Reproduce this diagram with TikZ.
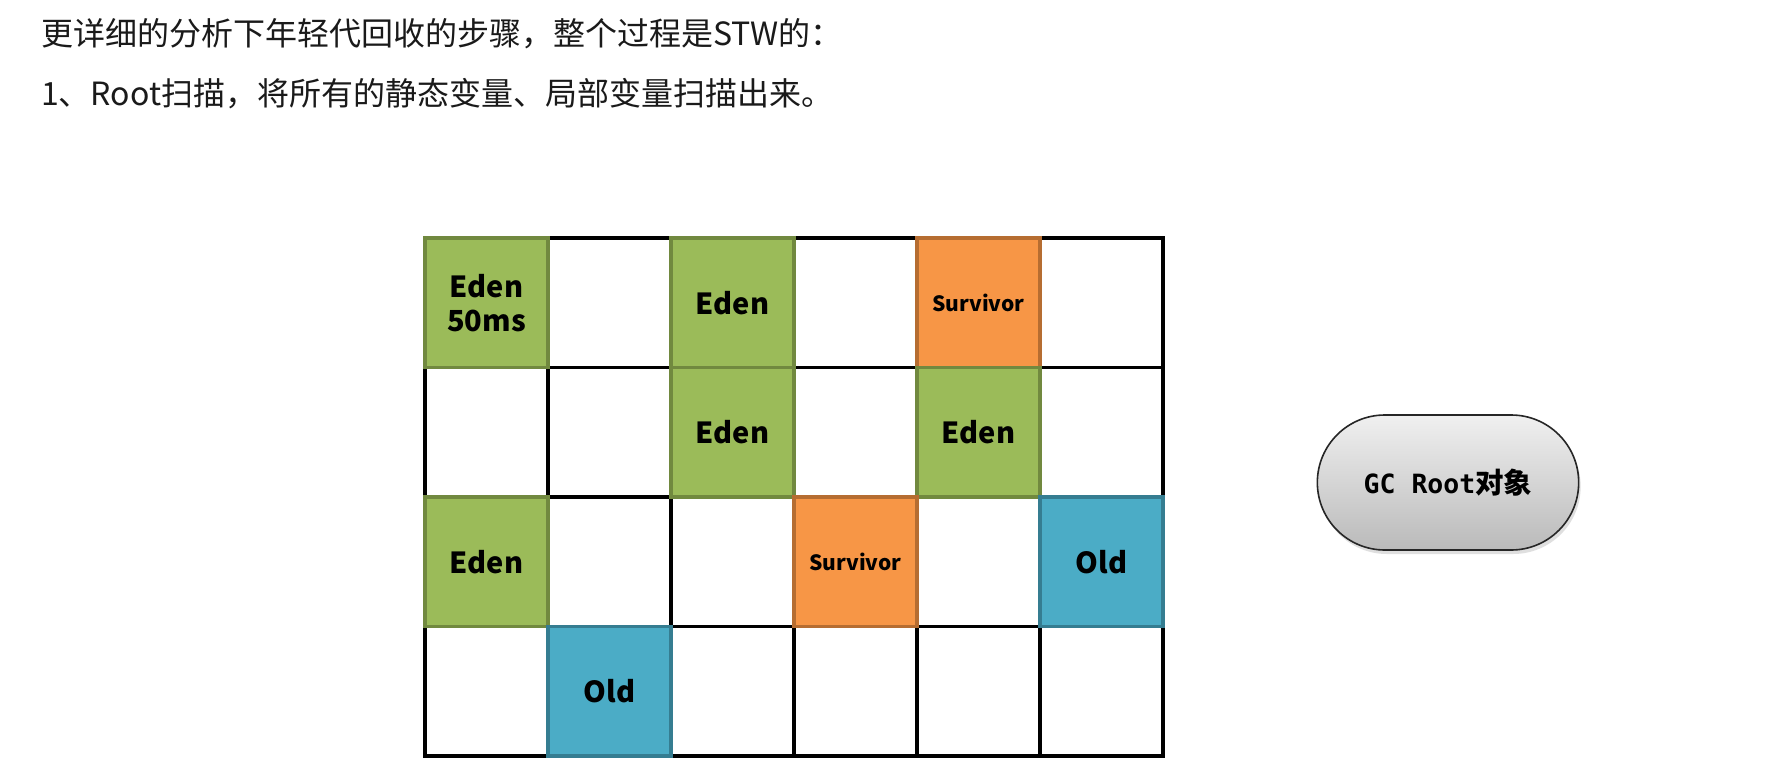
\documentclass[tikz,border=0pt]{standalone}
\usepackage{fontspec}
\newfontfamily\cjk{Noto Sans CJK SC}
\newfontfamily\monob{DejaVu Sans Mono}
\usetikzlibrary{shapes.misc,shadows}
\definecolor{edenfill}{HTML}{9BBB59}
\definecolor{edendraw}{HTML}{71893F}
\definecolor{survfill}{HTML}{F79646}
\definecolor{survdraw}{HTML}{B66D31}
\definecolor{oldfill}{HTML}{4BACC6}
\definecolor{olddraw}{HTML}{357D91}
\definecolor{titletext}{HTML}{1A1A1A}
\begin{document}
\begin{tikzpicture}[x=1pt,y=-1pt,
  cell/.style={minimum width=123pt, minimum height=129.5pt, inner sep=0pt, line width=3.5pt,
    font=\cjk\bfseries\fontsize{29}{34}\selectfont, align=center, text=black},
  eden/.style={cell, fill=edenfill, draw=edendraw},
  surv/.style={cell, fill=survfill, draw=survdraw, font=\cjk\bfseries\fontsize{21}{25}\selectfont},
  old/.style={cell, fill=oldfill, draw=olddraw},
  gridline/.style={line width=3.6pt, black},
  titletxt/.style={anchor=base west, inner sep=0pt, font=\cjk\fontsize{32}{38}\selectfont, text=titletext},
  rootobj/.style={rounded rectangle, draw=black!85, line width=1.6pt, minimum width=268pt,
    minimum height=135pt, top color=black!6, bottom color=black!27,
    drop shadow={opacity=0.25, shadow xshift=2pt, shadow yshift=-4pt}}]
\fill[white] (0,0) rectangle (1776,776);
\useasboundingbox (0,0) rectangle (1776,776);
% title lines
\node[titletxt] (t1) at (41,46) {更详细的分析下年轻代回收的步骤，整个过程是STW的：};
\node[titletxt] (t2) at (41,105) {1、Root扫描，将所有的静态变量、局部变量扫描出来。};
% grid
\foreach \i in {1,...,5} \draw[gridline] (425+123*\i,238) -- (425+123*\i,756);
\foreach \j in {1,...,3} \draw[gridline] (425,238+129.5*\j) -- (1163,238+129.5*\j);
\draw[gridline] (425,238) rectangle (1163,756);
% coloured cells
\node[eden] (c00) at (486.5,302.75) {Eden\\50ms};
\node[eden] (c02) at (732.5,302.75) {Eden};
\node[surv] (c04) at (978.5,302.75) {Survivor};
\node[eden] (c12) at (732.5,432.25) {Eden};
\node[eden] (c14) at (978.5,432.25) {Eden};
\node[eden] (c20) at (486.5,561.75) {Eden};
\node[surv] (c23) at (855.5,561.75) {Survivor};
\node[old] (c25) at (1101.5,561.75) {Old};
\node[old] (c31) at (609.5,691.25) {Old};
% GC root object
\node[rootobj] (gc) at (1448,482.5)
  {\fontsize{26.5}{30}\selectfont\monob\bfseries GC Root{\cjk\bfseries\fontsize{28.5}{30}\selectfont 对象}};
\end{tikzpicture}
\end{document}
